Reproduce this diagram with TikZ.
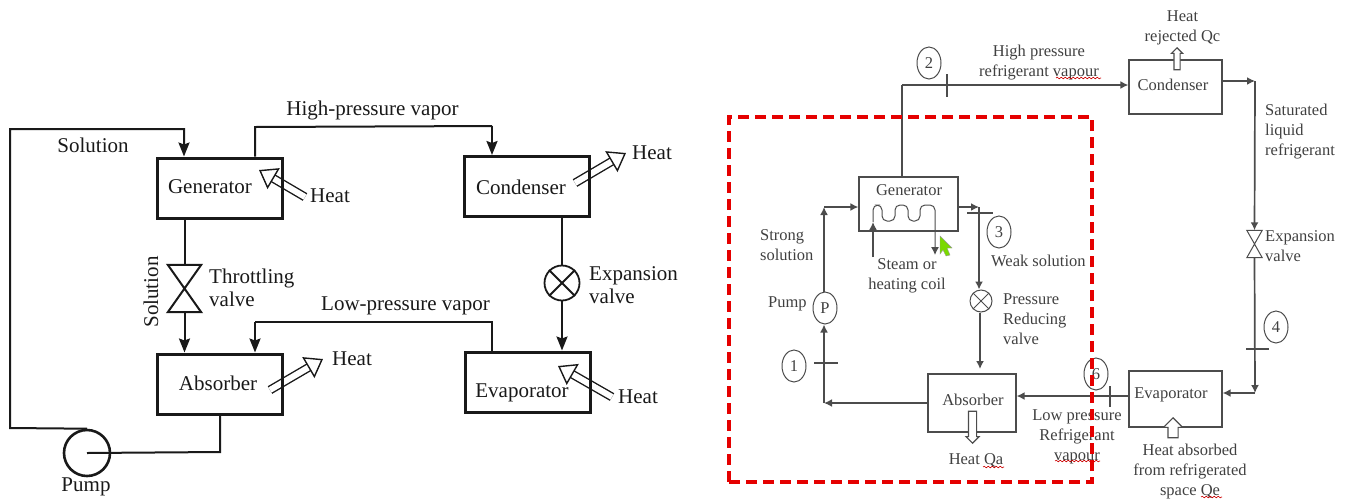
\documentclass[tikz,border=0pt]{standalone}
\usepackage{fontspec}
\setmainfont{Liberation Serif}
\usetikzlibrary{arrows.meta,calc,shapes.geometric,shapes.arrows,decorations.pathmorphing}

\begin{document}
\begin{tikzpicture}[x=1pt,y=-1pt]
	\tikzstyle{bigtext} = [inner sep=0pt, align=left, text=black!90, font=\fontsize{21}{23.5}\selectfont]
	\tikzstyle{smalltext} = [inner sep=0pt, align=left, text=black!75, font=\fontsize{16.5}{20}\selectfont]
	\tikzstyle{bigbox} = [rectangle, draw=black!90, line width=3pt, minimum width=125pt, minimum height=60pt, inner sep=0pt]
	\tikzstyle{smallbox} = [rectangle, draw=black!70, line width=1.2pt, minimum width=93pt, minimum height=54pt, inner sep=0pt]
	\tikzstyle{bigline} = [draw=black!90, line width=2pt]
	\tikzstyle{bigarrow} = [bigline, -{Stealth[length=14pt,width=11pt,inset=2pt]}]
	\tikzstyle{smallline} = [draw=black!70, line width=1.7pt]
	\tikzstyle{smallarrow} = [smallline, -{Latex[length=8pt,width=8pt]}]
	\tikzstyle{heatarrow} = [draw=black!90, line width=1.4pt, double=white, double distance=6pt, -{Triangle[open,fill=white,length=17pt,width=24pt]}]
	\tikzstyle{hollow} = [single arrow, draw=black!70, fill=white, line width=1.1pt, single arrow tip angle=90]
	\tikzstyle{station} = [ellipse, draw=black!70, line width=1pt, minimum width=24pt, minimum height=32pt, inner sep=0pt]
	\tikzstyle{tickmark} = [rectangle, draw=black!70, line width=0.8pt, inner sep=0pt]
	\tikzstyle{squiggle} = [draw=red!80!black, line width=0.6pt, decorate, decoration={snake,amplitude=0.8pt,segment length=4pt}]

	\useasboundingbox (0,0) rectangle (1346,499);

	% Left cycle
	% Heat arrows, under the boxes
	\coordinate (HGtail) at (305,197);
	\coordinate (HGtip) at (259,170);
	\coordinate (HAtail) at (270,390);
	\coordinate (HAtip) at (323,359);
	\coordinate (HCtail) at (575,183);
	\coordinate (HCtip) at (626,153);
	\coordinate (HEtail) at (612,397);
	\coordinate (HEtip) at (558,366);
	\draw[heatarrow] (HGtail) -- (HGtip);
	\draw[heatarrow] (HAtail) -- (HAtip);
	\draw[heatarrow] (HCtail) -- (HCtip);
	\draw[heatarrow] (HEtail) -- (HEtip);

	\node (GL) [bigbox] at (220,188) {};
	\node (AL) [bigbox] at (220,384) {};
	\node (CL) [bigbox] at (526.5,186.5) {};
	\node (EL) [bigbox] at (527.5,382) {};
	\node [bigtext] at (210,187) {Generator};
	\node [bigtext] at (218,383) {Absorber};
	\node [bigtext] at (521,187) {Condenser};
	\node [bigtext] at (522,393) {Evaporator};

	% Pump and valves
	\node (PL) [circle, draw=black!90, line width=2.6pt, minimum size=46pt, inner sep=0pt] at (87,453) {};
	\coordinate (PLin) at (87,453);
	\node (TV) [rectangle, minimum width=33pt, minimum height=47pt, inner sep=0pt] at (184.5,288.5) {};
	\draw[bigline] (TV.north west) -- (TV.south east) -- (TV.south west) -- (TV.north east) -- cycle;
	\node (EV) [circle, draw=black!90, line width=1.8pt, minimum size=35pt, inner sep=0pt] at (562,283) {};
	\draw[bigline] (EV.north west) -- (EV.south east);
	\draw[bigline] (EV.north east) -- (EV.south west);

	% Corners of the pipes
	\coordinate (S1) at (10,428);
	\coordinate (S2) at (10,129);
	\coordinate (S3) at (184,129);
	\coordinate (H1) at (255,127);
	\coordinate (H2) at (492,126);
	\coordinate (L1) at (492,322);
	\coordinate (L2) at (255,322);
	\coordinate (B1) at (220,452);

	\draw[bigarrow] (PL.north) -- (S1) -- (S2) -- (S3) -- (S3 |- GL.north);
	\draw[bigline] (H1 |- GL.north) -- (H1) -- (H2);
	\draw[bigarrow] (H2) -- (H2 |- CL.north);
	\draw[bigline] (GL.south -| TV.north) -- (TV.north);
	\draw[bigarrow] (TV.south) -- (TV.south |- AL.north);
	\draw[bigline] (CL.south -| EV.north) -- (EV.north);
	\draw[bigarrow] (EV.south) -- (EV.south |- EL.north);
	\draw[bigline] (L1 |- EL.north) -- (L1) -- (L2);
	\draw[bigarrow] (L2) -- (L2 |- AL.north);
	\draw[bigline] (B1 |- AL.south) -- (B1) -- (PLin);

	% Labels
	\node [bigtext] at (372.5,110) {High-pressure vapor};
	\node [bigtext] at (405.5,306) {Low-pressure vapor};
	\node [bigtext] at (93,145) {Solution};
	\node [bigtext, rotate=90] at (151,292) {Solution};
	\node [bigtext, anchor=west] at (209,288) {Throttling\\valve};
	\node [bigtext, anchor=west] at (589,285) {Expansion\\valve};
	\node [bigtext, anchor=west] at (310,196) {Heat};
	\node [bigtext, anchor=west] at (332,359) {Heat};
	\node [bigtext, anchor=west] at (632,153) {Heat};
	\node [bigtext, anchor=west] at (618,397) {Heat};
	\node [bigtext] at (86,487) {Pump};

	% Right cycle
	\node (GR) [smallbox, minimum width=99pt] at (908.5,204) {};
	\node (CR) [smallbox] at (1175.5,87) {};
	\node (AR) [smallbox, minimum width=88pt, minimum height=58pt] at (972,403) {};
	\node (ER) [smallbox, minimum height=56pt] at (1175.5,399) {};
	\node [smalltext] at (909,190) {Generator};
	\node [smalltext] at (1173,85) {Condenser};
	\node [smalltext] at (973,400) {Absorber};
	\node [smalltext] at (1171,395) {Evaporator};

	% Hollow arrows of the heat flows
	\node (QC) [hollow, anchor=tip, inner sep=2.5pt, shape border rotate=90, minimum height=22pt, single arrow head extend=2.5pt] at (1177,47) {};
	\node (QA) [hollow, anchor=tip, inner sep=3.5pt, shape border rotate=270, minimum height=32pt, single arrow head extend=2.5pt] at (972.5,444) {};
	\node (QE) [hollow, anchor=tip, inner sep=4.5pt, shape border rotate=90, minimum height=20pt, single arrow head extend=4.5pt] at (1173,417) {};

	% Pump, valves and state points
	\node (PR) [station, smalltext] at (825,308) {P};
	\node (RV) [circle, draw=black!70, line width=1pt, minimum size=22pt, inner sep=0pt] at (981,301) {};
	\draw[smallline, line width=1pt] (RV.north west) -- (RV.south east);
	\draw[smallline, line width=1pt] (RV.north east) -- (RV.south west);
	\node (XV) [rectangle, minimum width=15pt, minimum height=27pt, inner sep=0pt] at (1254.5,244) {};
	\draw[smallline, line width=1pt] (XV.north west) -- (XV.south east) -- (XV.south west) -- (XV.north east) -- cycle;
	\node [station, smalltext] at (794,366) {1};
	\node [station, smalltext] at (929,63) {2};
	\node [station, smalltext] at (999,232) {3};
	\node [station, smalltext] at (1276,327) {4};
	\node [station, smalltext] at (1096,374) {6};
	\node (T1) [tickmark, minimum width=23pt] at (825.5,363) {};
	\node (T2) [tickmark, minimum height=22pt] at (947,85) {};
	\node (T3) [tickmark, minimum width=25pt] at (979.5,213) {};
	\node (T4) [tickmark, minimum width=22pt] at (1257,349) {};
	\node (T6) [tickmark, minimum height=20pt] at (1110,396) {};

	% Pipes
	\coordinate (R1) at (902,85);
	\coordinate (R2) at (1255,81);
	\coordinate (R3) at (1255,393);
	\coordinate (R4) at (979,207);
	\coordinate (R5) at (824,403);
	\coordinate (R6) at (824,207);
	\coordinate (R7) at (980,369);
	\coordinate (R8) at (1129,396);
	\draw[smallline] (R1 |- GR.north) -- (R1);
	\draw[smallarrow] (R1) -- (R1 -| CR.west);
	\draw[smallarrow] (CR.east |- R2) -- (R2);
	\draw[smallarrow] (R2) -- (XV.north);
	\draw[smallarrow] (XV.south) -- (R3);
	\draw[smallarrow] (R3) -- (R3 -| ER.east);
	\draw[smallarrow] (R8) -- (R8 -| AR.east);
	\draw[smallarrow] (AR.west |- R5) -- (R5);
	\draw[smallarrow] (R5) -- (PR.south -| R5);
	\draw[smallarrow] (PR.north -| R5) -- (R6);
	\draw[smallarrow] (R6) -- (R6 -| GR.west);
	\draw[smallarrow] (GR.east |- R4) -- (R4);
	\draw[smallarrow] (R4) -- (RV.north -| R4);
	\draw[smallarrow] (RV.south -| R7) -- (R7);

	% Heating coil
	\coordinate (SI) at (873,257);
	\coordinate (SC) at (873,222);
	\coordinate (SO) at (935,255);
	\draw[smallarrow] (SI) -- (SC);
	\draw[smallarrow, line width=1pt, rounded corners=5pt] (SC) -- (873,205) -- (882,205) -- (882,221) -- (895,221) -- (895,205) -- (908,205) -- (908,221) -- (920,221) -- (920,205) -- (935,205) -- (SO);

	% Labels
	\node (TH) [smalltext, align=center] at (1039,62.5) {High pressure\\refrigerant vapour};
	\node [smalltext, align=center] at (1182.5,27.5) {Heat\\rejected Qc};
	\node [smalltext, anchor=west] at (1265,131.5) {Saturated\\liquid\\refrigerant};
	\node [smalltext, anchor=west] at (1265,246) {Expansion\\valve};
	\node [smalltext, align=center] at (1190,471.5) {Heat absorbed\\from refrigerated\\space Qe};
	\node [smalltext, align=center] at (1077,436.5) {Low pressure\\Refrigerant\\vapour};
	\node [smalltext, anchor=west] at (1003,319.5) {Pressure\\Reducing\\valve};
	\node [smalltext, anchor=west] at (991,261) {Weak solution};
	\node [smalltext, align=center] at (907,275.5) {Steam or\\heating coil};
	\node [smalltext, anchor=west] at (760,245.5) {Strong\\solution};
	\node [smalltext, anchor=west] at (768,304) {Pump};
	\node [smalltext] at (976,460) {Heat Qa};

	% Spell checker marks
	\coordinate (W1a) at (1056,78);
	\coordinate (W1b) at (1101,78);
	\coordinate (W2a) at (983,467);
	\coordinate (W2b) at (1004,467);
	\coordinate (W3a) at (1055,461);
	\coordinate (W3b) at (1100,461);
	\coordinate (W4a) at (1201,497);
	\coordinate (W4b) at (1222,497);
	\draw[squiggle] (W1a) -- (W1b);
	\draw[squiggle] (W2a) -- (W2b);
	\draw[squiggle] (W3a) -- (W3b);
	\draw[squiggle] (W4a) -- (W4b);

	% Mouse pointer
	\filldraw[fill=lime!75!green!85!black, draw=black!40, line width=0.4pt] (940,236) -- (952,248) -- (947,248) -- (950,255) -- (946,256) -- (943,250) -- (940,254) -- cycle;

	% Red frame on top
	\node (RF) [rectangle, draw=red!90!black, line width=3.2pt, dash pattern=on 11pt off 6pt, minimum width=363pt, minimum height=365pt, inner sep=0pt] at (910.5,299.5) {};
\end{tikzpicture}
\end{document}
